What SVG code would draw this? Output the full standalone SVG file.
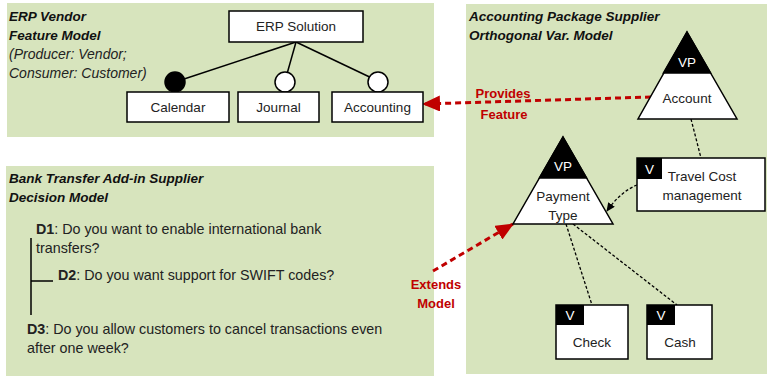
<svg xmlns="http://www.w3.org/2000/svg" width="767" height="377" viewBox="0 0 767 377">
<defs>
<style>
.panel{fill:#D7E4BD;stroke:none}
.box{fill:#fff;stroke:#000;stroke-width:1.5}
.lbl{font-family:"Liberation Sans",Arial,sans-serif;font-size:13.5px;fill:#222;text-anchor:middle}
.title{font-family:"Liberation Sans",Arial,sans-serif;font-size:13.5px;font-weight:bold;font-style:italic;fill:#111}
.sub{font-family:"Liberation Sans",Arial,sans-serif;font-size:14px;font-style:italic;fill:#222}
.q{font-family:"Liberation Sans",Arial,sans-serif;font-size:14.3px;fill:#222}
.red{font-family:"Liberation Sans",Arial,sans-serif;font-size:13px;font-weight:bold;fill:#C00000;text-anchor:middle}
.wt{font-family:"Liberation Sans",Arial,sans-serif;font-size:13.5px;fill:#fff;text-anchor:middle}
.solid{stroke:#000;stroke-width:1.5;fill:none}
.dot{stroke:#000;stroke-width:1.3;stroke-dasharray:3 2;fill:none}
.reddash{stroke:#C00000;stroke-width:3;stroke-dasharray:6 4;fill:none}
</style>
<marker id="redArrow" markerUnits="userSpaceOnUse" markerWidth="18" markerHeight="16" refX="17" refY="8" orient="auto">
<path d="M0,0 L18,8 L0,16 Z" fill="#C00000"/>
</marker>
<marker id="blkArrow" markerUnits="userSpaceOnUse" markerWidth="9" markerHeight="8" refX="8" refY="4" orient="auto">
<path d="M0,0 L9,4 L0,8 Z" fill="#000"/>
</marker>
</defs>

<g id="panels">
<rect class="panel" x="7" y="3" width="427" height="134"/>
<rect class="panel" x="466" y="4" width="301" height="370"/>
<rect class="panel" x="6" y="166" width="428" height="210"/>
</g>

<g id="panel-titles">
<text class="title" x="9" y="21">ERP Vendor</text>
<text class="title" x="9" y="40">Feature Model</text>
<text class="sub" x="9" y="59">(Producer: Vendor;</text>
<text class="sub" x="9" y="78">Consumer: Customer)</text>
<text class="title" x="469" y="21">Accounting Package Supplier</text>
<text class="title" x="469" y="40">Orthogonal Var. Model</text>
<text class="title" x="9" y="183">Bank Transfer Add-in Supplier</text>
<text class="title" x="9" y="202">Decision Model</text>
</g>

<g id="connectors">
<line class="solid" x1="296" y1="42" x2="175" y2="82"/>
<line class="solid" x1="296" y1="42" x2="285" y2="81"/>
<line class="solid" x1="296" y1="42" x2="378" y2="81"/>
<line class="dot" x1="691" y1="119" x2="701" y2="158"/>
<path class="dot" d="M637,185 Q620,192 607,211" marker-end="url(#blkArrow)"/>
<line class="dot" x1="566" y1="224" x2="592" y2="305"/>
<line class="dot" x1="573" y1="224" x2="677" y2="305"/>
<line class="reddash" x1="651" y1="97" x2="423" y2="104" marker-end="url(#redArrow)"/>
<line class="reddash" x1="433" y1="271" x2="513" y2="224" marker-end="url(#redArrow)"/>
<line class="solid" x1="31" y1="238" x2="31" y2="315"/>
<line class="solid" x1="31" y1="281" x2="53" y2="281"/>
</g>

<g id="erp-solution">
<rect class="box" x="229" y="11" width="134" height="31"/>
<text class="lbl" x="296" y="31">ERP Solution</text>
</g>
<g id="calendar">
<circle cx="175" cy="82" r="10" fill="#000" stroke="#000" stroke-width="1.5"/>
<rect class="box" x="127" y="92" width="102" height="30"/>
<text class="lbl" x="178" y="112">Calendar</text>
</g>
<g id="journal">
<circle cx="285" cy="82" r="10" fill="#fff" stroke="#000" stroke-width="1.5"/>
<rect class="box" x="238" y="92" width="81" height="30"/>
<text class="lbl" x="278.5" y="112">Journal</text>
</g>
<g id="accounting">
<circle cx="378" cy="82" r="10" fill="#fff" stroke="#000" stroke-width="1.5"/>
<rect class="box" x="332" y="92" width="91" height="30"/>
<text class="lbl" x="377.5" y="112">Accounting</text>
</g>

<g id="account">
<path d="M687,32 L737,119 L638,119 Z" fill="#fff" stroke="#000" stroke-width="1.5"/>
<path d="M687,32 L710.6,73 L663.4,73 Z" fill="#000" stroke="#000" stroke-width="1.5"/>
<text class="wt" x="687" y="67">VP</text>
<text class="lbl" x="687" y="103">Account</text>
</g>

<g id="payment-type">
<path d="M563,137 L613,224 L513,224 Z" fill="#fff" stroke="#000" stroke-width="1.5"/>
<path d="M563,137 L586.6,178 L539.4,178 Z" fill="#000" stroke="#000" stroke-width="1.5"/>
<text class="wt" x="563" y="171">VP</text>
<text class="lbl" x="563" y="201">Payment</text>
<text class="lbl" x="563" y="220">Type</text>
</g>

<g id="travel-cost">
<rect class="box" x="637" y="158" width="128" height="53"/>
<rect x="637" y="158" width="25" height="21" fill="#000"/>
<text class="wt" x="649.5" y="174">V</text>
<text class="lbl" x="702" y="181">Travel Cost</text>
<text class="lbl" x="702" y="200">management</text>
</g>

<g id="check">
<rect class="box" x="556" y="305" width="72" height="54"/>
<rect x="556" y="305" width="28" height="20" fill="#000"/>
<text class="wt" x="570" y="320">V</text>
<text class="lbl" x="592" y="347">Check</text>
</g>

<g id="cash">
<rect class="box" x="647" y="305" width="65" height="54"/>
<rect x="647" y="305" width="28" height="20" fill="#000"/>
<text class="wt" x="661" y="320">V</text>
<text class="lbl" x="680" y="347">Cash</text>
</g>

<g id="labels">
<text class="red" x="503" y="98">Provides</text>
<text class="red" x="504" y="119">Feature</text>
<text class="red" x="436" y="289">Extends</text>
<text class="red" x="436" y="308">Model</text>
</g>

<g id="decisions">
<text class="q" x="36" y="234"><tspan font-weight="bold">D1</tspan>: Do you want to enable international bank</text>
<text class="q" x="36" y="253">transfers?</text>
<text class="q" x="58" y="280"><tspan font-weight="bold">D2</tspan>: Do you want support for SWIFT codes?</text>
<text class="q" x="27" y="334"><tspan font-weight="bold">D3</tspan>: Do you allow customers to cancel transactions even</text>
<text class="q" x="27" y="353">after one week?</text>
</g>
</svg>
